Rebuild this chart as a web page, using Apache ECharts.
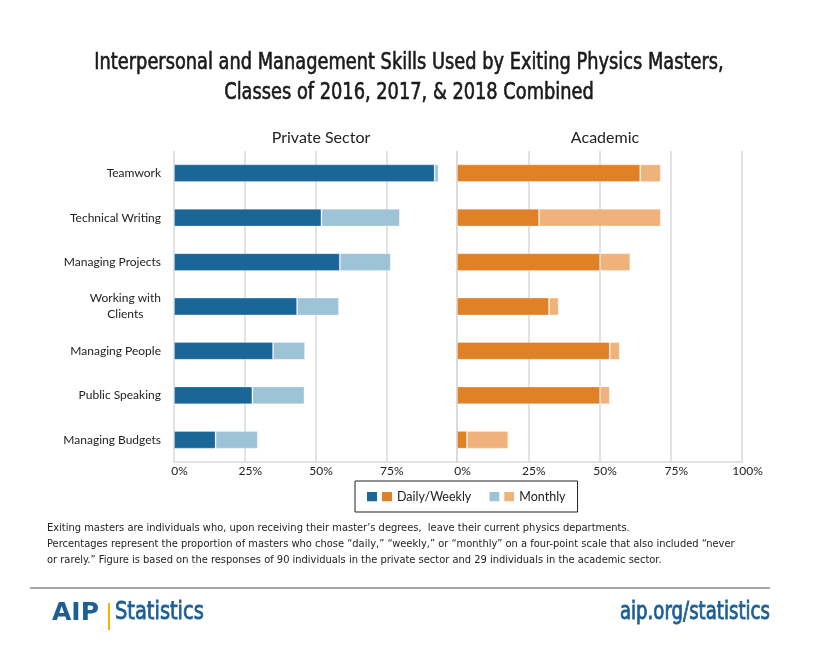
<!DOCTYPE html>
<html>
<head>
<meta charset="utf-8">
<script src="https://cdn.jsdelivr.net/npm/echarts@6/dist/echarts.min.js"></script>
<style>
html,body{margin:0;padding:0;background:#fff;}
#chart{width:820px;height:667px;}
</style>
</head>
<body>
<div id="chart"></div>
<script>
// ---- Data ----
const categories = ['Teamwork', 'Technical Writing', 'Managing Projects', 'Working with\nClients', 'Managing People', 'Public Speaking', 'Managing Budgets'];
const privateDailyWeekly = [92.1, 52.1, 58.6, 43.5, 35.0, 27.7, 14.7];
const privateMonthly     = [1.4, 27.7, 18.0, 14.8, 11.3, 18.4, 14.9];
const academicDailyWeekly = [64.3, 28.8, 50.2, 32.3, 53.6, 50.2, 3.5];
const academicMonthly     = [7.2, 42.7, 10.6, 3.4, 3.5, 3.4, 14.5];
const xTicks = [0, 25, 50, 75, 100];
const panelTitles = ['Private Sector', 'Academic'];
const seriesNames = ['Daily/Weekly', 'Monthly'];
const chartTitle = 'Interpersonal and Management Skills Used by Exiting Physics Masters,\nClasses of 2016, 2017, & 2018 Combined';
const footnote = 'Exiting masters are individuals who, upon receiving their master’s degrees,  leave their current physics departments.\nPercentages represent the proportion of masters who chose “daily,” “weekly,” or “monthly” on a four-point scale that also included “never\nor rarely.” Figure is based on the responses of 90 individuals in the private sector and 29 individuals in the academic sector.';

const C = {
  darkBlue: '#1B6699', lightBlue: '#9DC3D7',
  orange: '#E08127', lightOrange: '#EFB27A',
  grid: '#D9D9D9', text: '#222222', brand: '#1D5F93'
};
const FONT = 'Lato, "Open Sans", sans-serif';
const NARROW = '"DejaVu Sans Condensed", "Liberation Sans Narrow", sans-serif';

function legendIcon(c1, c2) {
  const svg = '<svg xmlns="http://www.w3.org/2000/svg" width="25" height="10">' +
    '<rect x="0" y="0" width="10" height="10" fill="' + c1 + '"/>' +
    '<rect x="15" y="0" width="10" height="10" fill="' + c2 + '"/></svg>';
  return 'image://data:image/svg+xml;charset=utf-8,' + encodeURIComponent(svg);
}

const chart = echarts.init(document.getElementById('chart'), null, {renderer: 'canvas'});

const grids = [
  {left: 174, right: 363, top: 151, height: 311},
  {left: 457, right: 78, top: 151, height: 311}
];

function xAxis(idx) {
  return {
    type: 'value', gridIndex: idx, min: 0, max: 100, interval: 25,
    axisLine: {show: true, lineStyle: {color: C.grid, width: 1.5}},
    axisTick: {show: false},
    splitLine: {show: true, lineStyle: {color: C.grid, width: 1.5}},
    axisLabel: {
      color: C.text, fontFamily: FONT, fontSize: 12, margin: 3,
      padding: [0, 0, 0, 11],
      formatter: function (v) { return (idx === 0 && v === 100) ? '' : v + '%'; }
    }
  };
}
function yAxis(idx) {
  return {
    type: 'category', gridIndex: idx, data: categories, inverse: true,
    axisLine: {show: false}, axisTick: {show: false},
    axisLabel: {
      show: idx === 0, color: C.text, fontFamily: FONT, fontSize: 12, margin: 13,
      lineHeight: 16,
      formatter: function (v) {
        const parts = v.split('\n');
        if (parts.length > 1) return parts.map(p => '{c|' + p + '}').join('\n');
        return v;
      },
      rich: {c: {align: 'center', fontFamily: FONT, fontSize: 12, color: C.text, lineHeight: 16}}
    }
  };
}

function bar(name, data, idx, color, stack) {
  return {
    name: name, type: 'bar', xAxisIndex: idx, yAxisIndex: idx, stack: stack,
    data: data, barWidth: '40%',
    itemStyle: {color: color, borderColor: 'rgba(255,255,255,0.25)', borderWidth: 1},
    emphasis: {disabled: true}
  };
}

const option = {
  animation: false,
  backgroundColor: '#fff',
  title: [
    {
      text: panelTitles[0], left: 316, top: 125, textAlign: 'center',
      textStyle: {fontFamily: FONT, fontSize: 16, fontWeight: 'normal', color: C.text}
    },
    {
      text: panelTitles[1], left: 600, top: 125, textAlign: 'center',
      textStyle: {fontFamily: FONT, fontSize: 16, fontWeight: 'normal', color: C.text}
    }
  ],
  legend: {
    left: 355, top: 481, width: 220,
    padding: [9, 12, 9, 12],
    borderColor: '#222', borderWidth: 1,
    itemWidth: 25, itemHeight: 10, itemGap: 18,
    textStyle: {fontFamily: FONT, fontSize: 12.5, color: C.text},
    selectedMode: false,
    data: [
      {name: seriesNames[0], icon: legendIcon(C.darkBlue, C.orange)},
      {name: seriesNames[1], icon: legendIcon(C.lightBlue, C.lightOrange)}
    ]
  },
  grid: grids,
  xAxis: [xAxis(0), xAxis(1)],
  yAxis: [yAxis(0), yAxis(1)],
  series: [
    bar(seriesNames[0], privateDailyWeekly, 0, C.darkBlue, 'p'),
    bar(seriesNames[1], privateMonthly, 0, C.lightBlue, 'p'),
    bar(seriesNames[0], academicDailyWeekly, 1, C.orange, 'a'),
    bar(seriesNames[1], academicMonthly, 1, C.lightOrange, 'a')
  ],
  graphic: [
    {
      type: 'text', x: 409, y: 48, scaleX: 0.86,
      style: {
        text: chartTitle, x: 0, y: 0, align: 'center', verticalAlign: 'top',
        font: '23px ' + NARROW, fill: '#1a1a1a', lineHeight: 30,
        stroke: '#1a1a1a', lineWidth: 0.6
      }
    },
    {
      type: 'text', left: 47, top: 520,
      style: {text: footnote, font: '11px ' + NARROW, fill: '#222', lineHeight: 16}
    },
    {type: 'line', shape: {x1: 30, y1: 588, x2: 770, y2: 588}, style: {stroke: '#A6A6A6', lineWidth: 2}},
    {
      type: 'text', x: 52, y: 601,
      style: {text: 'AIP', x: 0, y: 0, verticalAlign: 'top', font: 'bold 25px "DejaVu Sans", sans-serif', fill: C.brand}
    },
    {type: 'rect', shape: {x: 108, y: 603, width: 2, height: 27}, style: {fill: '#F2B600'}},
    {
      type: 'text', x: 115, y: 601, scaleX: 0.9,
      style: {text: 'Statistics', x: 0, y: 0, verticalAlign: 'top', font: '24px ' + NARROW, fill: C.brand, stroke: C.brand, lineWidth: 0.8}
    },
    {
      type: 'text', x: 770, y: 601, scaleX: 0.84,
      style: {text: 'aip.org/statistics', x: 0, y: 0, align: 'right', verticalAlign: 'top', font: '24px ' + NARROW, fill: C.brand, stroke: C.brand, lineWidth: 0.8}
    }
  ]
};
chart.setOption(option);
</script>
</body>
</html>
